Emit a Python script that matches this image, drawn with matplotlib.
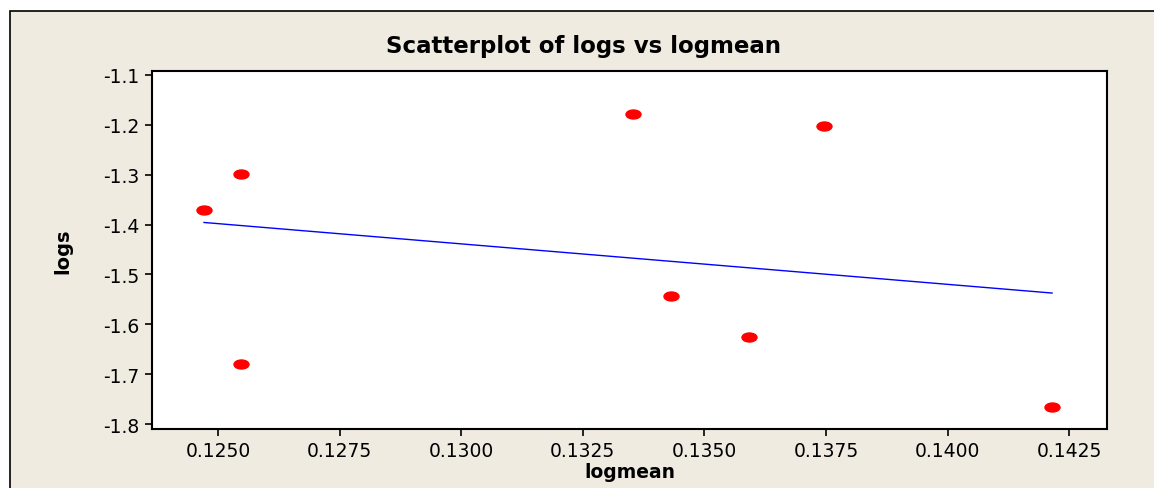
import matplotlib.pyplot as plt
import numpy as np
from matplotlib.patches import Rectangle
from matplotlib.path import Path
from matplotlib.transforms import Affine2D

# data
logmean = [0.12471, 0.12547, 0.12547, 0.13353, 0.13431, 0.13591, 0.13747, 0.14215]
logs = [-1.3708, -1.2986, -1.6796, -1.1782, -1.5432, -1.6255, -1.2023, -1.7659]

x_ticks = [0.1250, 0.1275, 0.1300, 0.1325, 0.1350, 0.1375, 0.1400, 0.1425]
y_ticks = [-1.1, -1.2, -1.3, -1.4, -1.5, -1.6, -1.7, -1.8]

BEIGE = '#EFEBE1'

fig = plt.figure(figsize=(11.54, 4.89), dpi=100)
fig.patch.set_facecolor('white')

# beige panel with black edge (runs off right and bottom)
W, H = 1154, 489
panel = Rectangle((10 / W, -0.1), 1.2, 1.1 - 12 / H, transform=fig.transFigure,
                  facecolor=BEIGE, edgecolor='black', linewidth=1.2, zorder=-5)
fig.patches.append(panel)

ax = fig.add_axes([152 / W, 1 - 430 / H, (1107 - 152) / W, (430 - 72) / H])
ax.set_facecolor('white')
ax.set_zorder(2)

# ellipse marker (image looks stretched sideways)
circ = Path.unit_circle()
ell = Path(Affine2D().scale(1.0, 0.6).transform(circ.vertices), circ.codes)

ax.plot(logmean, logs, linestyle='none', marker=ell, markersize=10.8,
        markerfacecolor='#FF0000', markeredgecolor='#FF0000', zorder=3)

# fitted line
b, a = np.polyfit(logmean, logs, 1)
xs = np.array([min(logmean), max(logmean)])
ax.plot(xs, a + b * xs, color='#0000FF', linewidth=1.0, zorder=2)

ax.set_xlim(0.12364, 0.14328)
ax.set_ylim(-1.81, -1.092)
ax.set_xticks(x_ticks)
ax.set_xticklabels([f'{t:.4f}' for t in x_ticks])
ax.set_yticks(y_ticks)
ax.set_yticklabels([f'-{abs(t):.1f}' for t in y_ticks])

for s in ax.spines.values():
    s.set_linewidth(1.5)
    s.set_color('black')
ax.tick_params(direction='out', length=5, width=1.2, labelsize=13.5, pad=4,
               top=False, right=False)

ax.set_xlabel('logmean', fontsize=13.5, fontweight='bold', labelpad=1)
ax.set_ylabel('logs', fontsize=14, fontweight='bold', labelpad=22)

fig.text(583 / W, 1 - 47 / H, 'Scatterplot of logs vs logmean',
         ha='center', va='center', fontsize=16.5, fontweight='bold', zorder=3)

fig.savefig('out.png', dpi=100, facecolor=fig.get_facecolor())
